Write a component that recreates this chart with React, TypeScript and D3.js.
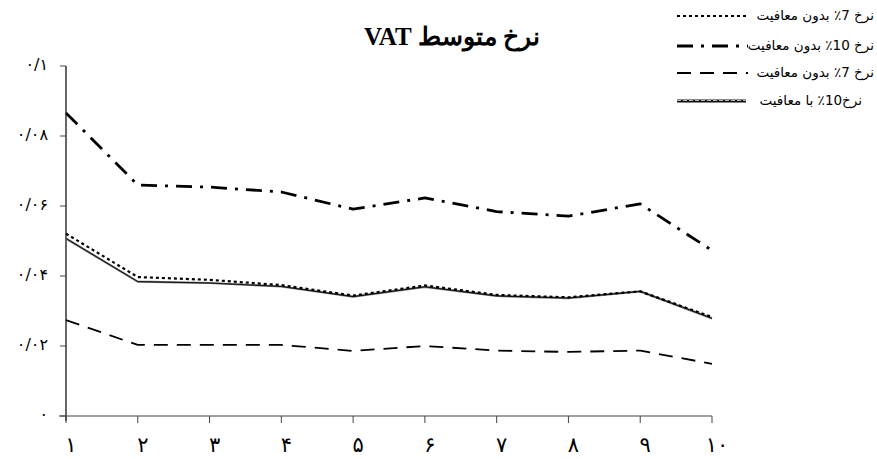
import React from "react";
import * as d3 from "d3";

const categories = [1, 2, 3, 4, 5, 6, 7, 8, 9, 10];
const categoryLabels = ["۱", "۲", "۳", "۴", "۵", "۶", "۷", "۸", "۹", "۱۰"];
const yTicks = [0, 0.02, 0.04, 0.06, 0.08, 0.1];
const yTickLabels = ["۰", "۰/۰۲", "۰/۰۴", "۰/۰۶", "۰/۰۸", "۰/۱"];

const rate7NoExempt = [0.0521, 0.0397, 0.0389, 0.0374, 0.0344, 0.0373, 0.0346, 0.0339, 0.0356, 0.0283];
const rate10NoExempt = [0.0866, 0.066, 0.0654, 0.064, 0.0591, 0.0623, 0.0584, 0.0571, 0.0606, 0.0473];
const rate7NoExemptB = [0.0274, 0.0203, 0.0203, 0.0203, 0.0186, 0.02, 0.0187, 0.0183, 0.0187, 0.0149];
const rate10WithExempt = [0.0507, 0.0384, 0.038, 0.037, 0.0341, 0.0369, 0.0343, 0.0337, 0.0356, 0.0279];

const title = "نرخ متوسط VAT";
const seriesNames = ["نرخ 7٪ بدون معافیت", "نرخ 10٪ بدون معافیت", "نرخ 7٪ بدون معافیت", "نرخ10٪ با معافیت"];

const W = 877;
const H = 459;

export default function App() {
  const x = d3.scalePoint<number>().domain(categories).range([66, 712]);
  const y = d3.scaleLinear().domain([0, 0.1]).range([416, 66]);
  const line = d3
    .line<number>()
    .x((_, i) => x(categories[i]) as number)
    .y((d) => y(d));

  const series = [
    { data: rate10WithExempt, style: { stroke: "#777", strokeWidth: 2.2 }, inner: { stroke: "#000", strokeWidth: 0.9 } },
    { data: rate7NoExempt, style: { stroke: "#000", strokeWidth: 2.2, strokeDasharray: "3,3" } },
    { data: rate10NoExempt, style: { stroke: "#000", strokeWidth: 2.8, strokeDasharray: "16,8,3,8" } },
    { data: rate7NoExemptB, style: { stroke: "#000", strokeWidth: 1.8, strokeDasharray: "14,9" } },
  ];

  const legendStyles: any[] = [
    { stroke: "#000", strokeWidth: 2.2, strokeDasharray: "3,3" },
    { stroke: "#000", strokeWidth: 2.8, strokeDasharray: "16,8,3,8" },
    { stroke: "#000", strokeWidth: 1.8, strokeDasharray: "14,9" },
    { stroke: "#111", strokeWidth: 2.8 },
  ];
  const legendY = [16, 46, 73, 101];

  return (
    <svg
      width={W}
      height={H}
      style={{ position: "absolute", left: 0, top: 0, background: "#fff" }}
      fontFamily="'Liberation Serif', 'DejaVu Sans', serif"
    >
      <rect x={0} y={0} width={W} height={H} fill="#fff" />
      <text x={452} y={45} textAnchor="middle" fontSize={25} fontWeight="bold" direction="rtl" fontFamily="'Liberation Serif', 'DejaVu Serif', serif">
        {title}
      </text>

      {/* axes */}
      <line x1={66} x2={66} y1={66} y2={421} stroke="#000" strokeWidth={1.2} />
      <line x1={59} x2={712} y1={416} y2={416} stroke="#444" strokeWidth={1.2} />
      {yTicks.map((t, i) => (
        <g key={"yt" + i}>
          <line x1={60} x2={66} y1={y(t)} y2={y(t)} stroke="#444" strokeWidth={1} />
          <text x={48} y={y(t) - 1} textAnchor="end" fontSize={16} fontFamily="'DejaVu Sans', sans-serif" dominantBaseline="middle">
            {yTickLabels[i]}
          </text>
        </g>
      ))}
      {categories.map((c, i) => (
        <g key={"xt" + i}>
          <line x1={x(c)} x2={x(c)} y1={416} y2={423} stroke="#444" strokeWidth={1} />
          <text x={(x(c) as number) + 5} y={452} textAnchor="middle" fontSize={21} fontFamily="'DejaVu Sans', sans-serif">
            {categoryLabels[i]}
          </text>
        </g>
      ))}

      {series.map((s, i) => (
        <g key={"s" + i}>
          <path d={line(s.data) || ""} fill="none" {...(s.style as any)} strokeLinejoin="round" />
          {s.inner && <path d={line(s.data) || ""} fill="none" {...(s.inner as any)} />}
        </g>
      ))}

      {/* legend */}
      {seriesNames.map((n, i) => (
        <g key={"lg" + i}>
          <line x1={677} x2={i === 3 ? 746 : 748} y1={legendY[i]} y2={legendY[i]} {...legendStyles[i]} />
          {i === 3 && <line x1={677} x2={746} y1={legendY[i] - 0.5} y2={legendY[i] - 0.5} stroke="#fff" strokeWidth={0.7} strokeDasharray="4,2" />}
          <text
            x={i === 3 ? 862 : 874}
            y={legendY[i] + 4}
            textAnchor="start"
            direction="rtl"
            fontSize={13.5}
            fontFamily="'DejaVu Sans', sans-serif"
          >
            {n}
          </text>
        </g>
      ))}
    </svg>
  );
}
